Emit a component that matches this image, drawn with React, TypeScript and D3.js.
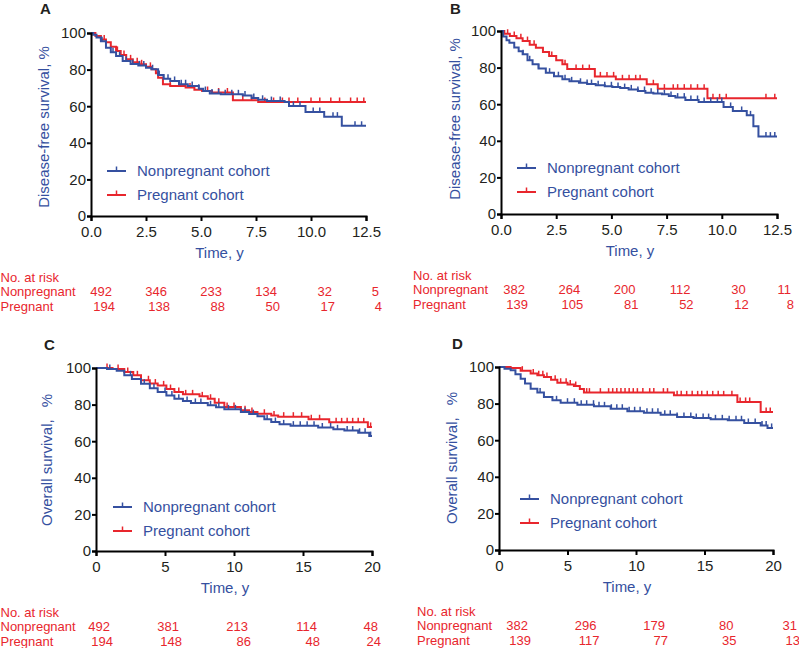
import * as d3 from 'd3';
import { useEffect, useRef } from 'react';

type Pt = [number, number];

const FONT = '"Liberation Sans", Arial, sans-serif';
const BLUE = '#3550a0';
const RED = '#e8262d';
const INK = '#231f20';

// ticks
const yTicks = [0, 20, 40, 60, 80, 100];
const dfsTicks = [0, 2.5, 5, 7.5, 10, 12.5];
const osTicks = [0, 5, 10, 15, 20];

const seriesNames = ['Nonpregnant cohort', 'Pregnant cohort'];
const riskTitle = 'No. at risk';
const riskRows = ['Nonpregnant', 'Pregnant'];

// A - disease-free survival, all
const aNonpreg: Pt[] = [
  [0, 100], [0.1, 99], [0.25, 97.5], [0.45, 95.5], [0.68, 92], [0.9, 89.5], [1.14, 87.4],
  [1.44, 84.7], [1.8, 83], [2.15, 82.3], [2.5, 81], [2.75, 80.2], [3.05, 77], [3.3, 75],
  [3.6, 73.8], [4.0, 72], [4.4, 71], [4.9, 69.5], [5.1, 68.3], [5.4, 67], [5.9, 66.5],
  [6.9, 65.8], [7.3, 64.5], [7.6, 63.5], [8.0, 62.8], [8.8, 62.3], [9.0, 60.1],
  [9.75, 56.8], [10.6, 54.3], [11.4, 49.3],
];
const aNonpregCens = [0.5, 1.0, 1.3, 1.6, 1.9, 2.2, 2.4, 2.8, 3.1, 3.3, 3.5, 3.8, 4.1, 4.3, 4.6, 4.9,
  5.2, 5.5, 5.8, 6.1, 6.4, 6.7, 7.0, 7.4, 7.8, 8.2, 8.6, 9.2, 9.5, 10.1, 10.4, 11.0, 11.2, 12.0, 12.3];
const aPreg: Pt[] = [
  [0, 100], [0.2, 98.4], [0.45, 96.5], [0.68, 95], [0.9, 92.5], [1.14, 90.2], [1.35, 88],
  [1.6, 85.6], [1.9, 84], [2.2, 82.9], [2.5, 81.5], [2.75, 80.2], [2.95, 78], [3.05, 75.6],
  [3.27, 72], [3.6, 71], [4.3, 70.2], [4.7, 69], [5.05, 68.3], [5.5, 67.5], [6.45, 63.2], [7.6, 62.3],
];
const aPregCens = [0.6, 1.2, 1.5, 1.8, 2.1, 2.3, 2.7, 3.6, 4.0, 4.5, 5.3, 5.8, 6.2, 6.9, 7.3, 7.9,
  8.3, 8.7, 9.0, 9.4, 10.0, 10.4, 10.9, 11.3, 11.8, 12.1, 12.4];
const aRiskNonpreg = [492, 346, 233, 134, 32, 5];
const aRiskPreg = [194, 138, 88, 50, 17, 4];

// B - disease-free survival, subgroup
const bNonpreg: Pt[] = [
  [0, 100], [0.1, 97], [0.25, 95], [0.38, 93.6], [0.6, 91], [0.8, 89], [0.98, 87.3], [1.2, 84],
  [1.43, 81.8], [1.7, 79.5], [2.03, 77.2], [2.4, 75.3], [2.78, 73.6], [3.1, 72.5], [3.53, 71.7],
  [3.9, 71], [4.29, 70.3], [4.7, 69.8], [5.04, 69.4], [5.4, 68.8], [5.78, 68.1], [6.2, 67.2],
  [6.54, 66.3], [6.9, 65.8], [7.29, 65.4], [7.6, 64.5], [7.9, 63.6], [8.35, 62.3], [8.95, 61.2],
  [10.08, 58.5], [10.5, 56.3], [11.13, 53.9], [11.43, 48], [11.66, 42.3],
];
const bNonpregCens = [1.0, 1.3, 1.7, 2.2, 2.6, 2.9, 3.2, 3.6, 3.9, 4.1, 4.4, 4.7, 5.0, 5.3, 5.6, 5.9,
  6.2, 6.5, 6.8, 7.1, 7.4, 7.7, 8.0, 8.3, 8.6, 8.9, 9.2, 9.5, 9.8, 10.0, 10.4, 10.9, 11.3, 12.0, 12.2, 12.4];
const bPreg: Pt[] = [
  [0, 100], [0.15, 98.5], [0.4, 97.3], [0.7, 96], [0.98, 94.5], [1.3, 92.5], [1.58, 90.9],
  [1.9, 88.5], [2.18, 86.3], [2.5, 84], [2.78, 81.8], [3.0, 79.2], [4.25, 75.2], [5.2, 73.6],
  [6.6, 70.9], [7.1, 68.5], [9.35, 63.2],
];
const bPregCens = [0.3, 0.6, 0.9, 1.2, 1.5, 2.3, 2.9, 3.4, 3.7, 4.0, 4.5, 4.8, 5.1, 5.5, 5.8, 6.1,
  6.3, 6.9, 7.4, 7.8, 8.0, 8.3, 8.6, 8.9, 9.2, 9.6, 9.9, 10.2, 12.0, 12.4];
const bRiskNonpreg = [382, 264, 200, 112, 30, 11];
const bRiskPreg = [139, 105, 81, 52, 12, 8];

// C - overall survival, all
const cNonpreg: Pt[] = [
  [0, 100], [0.8, 99.5], [1.5, 98.5], [2.05, 96], [2.6, 94], [3.26, 91.4], [3.9, 89], [4.47, 86.9],
  [5.1, 85], [5.68, 83.2], [6.3, 82], [6.88, 80.9], [8.1, 79.6], [8.7, 78.5], [9.3, 77.4],
  [10.5, 76], [11.1, 74.8], [11.7, 73.6], [12.2, 72], [12.7, 70.5], [13.3, 69.2], [14.1, 68.5],
  [16.1, 67.5], [17.2, 66.5], [18.0, 65.8], [19.0, 64.6], [19.8, 62.8],
];
const cNonpregCens = [1, 2.5, 3.5, 4.2, 5.0, 5.5, 6.0, 6.6, 7.2, 7.6, 8.3, 8.9, 9.6, 10.1, 10.8, 11.4,
  12.4, 13.0, 13.6, 14.3, 14.8, 15.3, 15.8, 16.4, 17.0, 17.5, 18.2, 18.6, 19.1, 19.5, 19.9];
const cPreg: Pt[] = [
  [0, 100], [1.2, 99.5], [2.05, 97.8], [2.7, 96], [3.26, 93.3], [3.9, 91.5], [4.47, 90.5],
  [5.1, 88.5], [5.68, 86.9], [6.3, 85.6], [7.5, 84.5], [8.1, 83.2], [8.6, 81], [9.3, 78.7],
  [10.5, 76.9], [11.1, 76], [11.7, 75], [12.7, 74.1], [13.2, 73.4], [15.4, 72], [16.9, 70.3], [19.7, 67.8],
];
const cPregCens = [0.8, 1.6, 2.3, 3.0, 3.8, 4.3, 4.9, 5.4, 6.0, 6.5, 7.0, 7.7, 8.3, 8.9, 9.5, 10.0,
  10.8, 11.3, 12.2, 12.9, 13.6, 14.3, 14.9, 15.6, 16.2, 17.4, 17.8, 18.2, 18.6, 19.0, 19.4, 19.9];
const cRiskNonpreg = [492, 381, 213, 114, 48];
const cRiskPreg = [194, 148, 86, 48, 24];

// D - overall survival, subgroup
const dNonpreg: Pt[] = [
  [0, 100], [0.4, 99], [0.85, 98.2], [1.2, 96], [1.58, 93.6], [1.9, 91], [2.31, 88.1], [2.8, 86],
  [3.28, 83.6], [3.9, 81.8], [4.5, 80.5], [5.72, 79.4], [6.93, 78.5], [8.15, 77.2], [9.37, 75.8],
  [10.58, 75], [11.8, 73.9], [13, 72.7], [14.2, 72.1], [15.45, 71.4], [16.7, 70.9], [17.9, 69.4],
  [19.1, 68.1], [19.6, 66.7],
];
const dNonpregCens = [3.0, 4.2, 5.0, 5.5, 6.0, 6.4, 6.9, 7.3, 7.7, 8.2, 8.6, 9.0, 9.5, 9.9, 10.3, 10.8,
  11.2, 11.6, 12.1, 12.5, 13.0, 13.5, 14.0, 14.4, 14.9, 15.3, 15.8, 16.3, 16.8, 17.3, 17.7, 18.2,
  18.7, 19.2, 19.5, 19.9];
const dPreg: Pt[] = [
  [0, 100], [0.85, 99.5], [1.58, 98], [2.31, 96.4], [2.8, 95.5], [3.28, 94.5], [3.8, 93],
  [4.26, 91.4], [5.0, 90.5], [5.47, 89.6], [5.9, 88], [6.2, 86], [12.77, 84.5], [17.4, 80.9], [19.1, 75.4],
];
const dPregCens = [1.7, 2.5, 2.9, 3.2, 3.5, 4.1, 4.5, 4.9, 5.2, 5.6, 6.4, 6.6, 7.4, 8.0, 8.3, 8.6, 8.9,
  9.2, 9.5, 9.8, 10.1, 10.5, 11.0, 11.3, 12.0, 12.3, 13.0, 13.3, 13.7, 14.1, 14.5, 14.8, 15.2,
  15.6, 16.0, 16.4, 17.0, 17.6, 18.0, 18.3, 19.5, 19.8];
const dRiskNonpreg = [382, 296, 179, 80, 31];
const dRiskPreg = [139, 117, 77, 35, 13];

const dfsLabel = ['Disease-free survival, %'];
const osLabel = ['Overall survival,', '%'];

const panels = [
  {
    letter: 'A', xMax: 12.5, xTicks: dfsTicks, fmt: '.1f', yLabel: dfsLabel,
    series: [{ pts: aNonpreg, cens: aNonpregCens, color: BLUE }, { pts: aPreg, cens: aPregCens, color: RED }],
    risk: [aRiskNonpreg, aRiskPreg],
    layout: { x0: 91, x1: 366, yTop: 33, yBot: 216, lx: 40, ly: 14, ylx: 49, yly: 127, legX: 107, legY: 171, riskX: 0.5, shift: 21, lastShift: 13 },
  },
  {
    letter: 'B', xMax: 12.5, xTicks: dfsTicks, fmt: '.1f', yLabel: dfsLabel,
    series: [{ pts: bNonpreg, cens: bNonpregCens, color: BLUE }, { pts: bPreg, cens: bPregCens, color: RED }],
    risk: [bRiskNonpreg, bRiskPreg],
    layout: { x0: 501, x1: 777, yTop: 31, yBot: 214, lx: 450, ly: 14, ylx: 460, yly: 119, legX: 517, legY: 168, riskX: 413, shift: 24, lastShift: 14 },
  },
  {
    letter: 'C', xMax: 20, xTicks: osTicks, fmt: 'd', yLabel: osLabel,
    series: [{ pts: cNonpreg, cens: cNonpregCens, color: BLUE }, { pts: cPreg, cens: cPregCens, color: RED }],
    risk: [cRiskNonpreg, cRiskPreg],
    layout: { x0: 96, x1: 372, yTop: 368, yBot: 551, lx: 44, ly: 350, ylx: 52, yly: 460, legX: 113, legY: 507, riskX: 0.5, shift: 14, lastShift: 6 },
  },
  {
    letter: 'D', xMax: 20, xTicks: osTicks, fmt: 'd', yLabel: osLabel,
    series: [{ pts: dNonpreg, cens: dNonpregCens, color: BLUE }, { pts: dPreg, cens: dPregCens, color: RED }],
    risk: [dRiskNonpreg, dRiskPreg],
    layout: { x0: 499, x1: 773, yTop: 367, yBot: 550, lx: 452, ly: 349, ylx: 457, yly: 458, legX: 520, legY: 499, riskX: 417, shift: 29, lastShift: 24 },
  },
];

const stepAt = (pts: Pt[], t: number) => {
  let s = pts[0][1];
  for (const [pt, ps] of pts) {
    if (pt <= t) s = ps;
    else break;
  }
  return s;
};

const styleAxis = (g: any) => {
  g.attr('font-size', 15).attr('font-family', FONT);
  g.select('.domain').attr('stroke', '#000').attr('stroke-width', 2);
  g.selectAll('.tick line').attr('stroke', '#000').attr('stroke-width', 2);
  g.selectAll('.tick text').attr('fill', INK);
};

const Panel = ({ p }: { p: any }) => {
  const L = p.layout;
  const gx = useRef<SVGGElement>(null);
  const gy = useRef<SVGGElement>(null);
  const x = d3.scaleLinear().domain([0, p.xMax]).range([L.x0, L.x1]);
  const y = d3.scaleLinear().domain([0, 100]).range([L.yBot, L.yTop]);

  useEffect(() => {
    d3.select(gx.current)
      .call(
        d3.axisBottom(x).tickValues(p.xTicks).tickFormat(d3.format(p.fmt))
          .tickSizeOuter(0).tickSize(5).tickPadding(5)
      )
      .call(styleAxis);
    d3.select(gy.current)
      .call(d3.axisLeft(y).tickValues(yTicks).tickSizeOuter(0).tickSize(4).tickPadding(1))
      .call(styleAxis);
  }, []);

  const line = d3
    .line<Pt>()
    .x((d) => x(d[0]))
    .y((d) => y(d[1]))
    .curve(d3.curveStepAfter);

  const drawOrder = [1, 0];
  const mid = (L.x0 + L.x1) / 2 - 9;
  const nTicks = p.xTicks.length;

  return (
    <g>
      <text x={L.lx} y={L.ly} fontSize={15} fontWeight="bold" fill={INK}>{p.letter}</text>
      <text
        transform={`translate(${L.ylx},${L.yly}) rotate(-90)`}
        textAnchor="middle"
        fontSize={15}
        fill={BLUE}
      >
        {p.yLabel[0]}
        {p.yLabel[1] ? <tspan dx={12}>{p.yLabel[1]}</tspan> : null}
      </text>

      {drawOrder.map((i) => {
        const s = p.series[i];
        const last = s.pts[s.pts.length - 1];
        const pts: Pt[] = [...s.pts, [p.xMax, last[1]]];
        return (
          <g key={i}>
            <path d={line(pts) || ''} fill="none" stroke={s.color} strokeWidth={2} />
            {s.cens.map((t: number, j: number) => (
              <line
                key={j}
                x1={x(t)}
                x2={x(t)}
                y1={y(stepAt(s.pts, t))}
                y2={y(stepAt(s.pts, t)) - 4.5}
                stroke={s.color}
                strokeWidth={1.5}
              />
            ))}
          </g>
        );
      })}

      <g ref={gx} transform={`translate(0,${L.yBot})`} />
      <g ref={gy} transform={`translate(${L.x0},0)`} />

      {seriesNames.map((name, i) => {
        const ly = L.legY + i * 24;
        return (
          <g key={name}>
            <line x1={L.legX} x2={L.legX + 19} y1={ly} y2={ly} stroke={p.series[i].color} strokeWidth={2} />
            <line x1={L.legX + 9.5} x2={L.legX + 9.5} y1={ly} y2={ly - 4.5} stroke={p.series[i].color} strokeWidth={1.5} />
            <text x={L.legX + 30} y={ly + 5} fontSize={15} fill={BLUE}>{name}</text>
          </g>
        );
      })}

      <text x={mid} y={L.yBot + 42} textAnchor="middle" fontSize={15} fill={BLUE}>Time, y</text>

      <g fontSize={13} fill={RED}>
        <text x={L.riskX} y={L.yBot + 66}>{riskTitle}</text>
        {riskRows.map((row, r) => (
          <g key={row}>
            <text x={L.riskX} y={L.yBot + 80 + r * 14.5}>{row}</text>
            {p.risk[r].map((v: number, k: number) => (
              <text
                key={k}
                x={x(p.xTicks[k]) + (k === nTicks - 1 ? L.lastShift : L.shift) + r * 3}
                y={L.yBot + 80 + r * 14.5}
                textAnchor="end"
              >
                {v}
              </text>
            ))}
          </g>
        ))}
      </g>
    </g>
  );
};

const App = () => {
  return (
    <svg
      width={799}
      height={648}
      style={{ position: 'absolute', left: 0, top: 0, background: '#fff' }}
      fontFamily={FONT}
    >
      {panels.map((p) => (
        <Panel key={p.letter} p={p} />
      ))}
    </svg>
  );
};

export default App;
